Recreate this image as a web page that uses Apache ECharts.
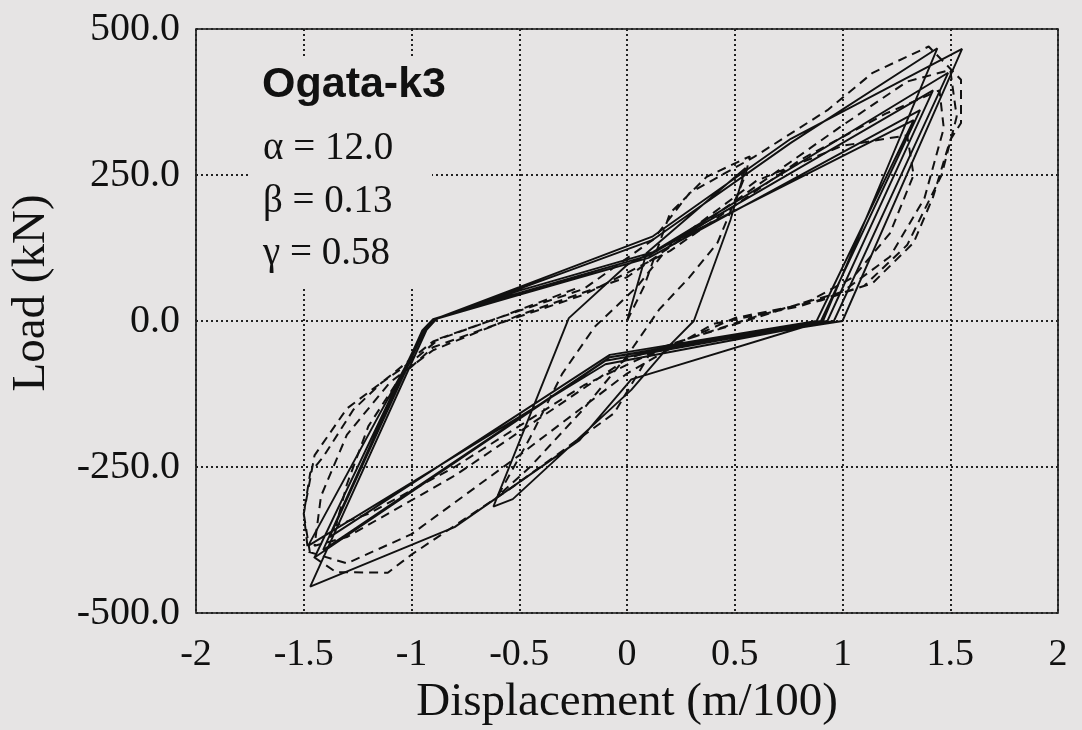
<!DOCTYPE html>
<html>
<head>
<meta charset="utf-8">
<script src="https://cdn.jsdelivr.net/npm/echarts@6/dist/echarts.min.js"></script>
<style>
html,body{margin:0;padding:0;background:#e6e4e4;}
#chart{width:1082px;height:730px;}
</style>
</head>
<body>
<div id="chart"></div>
<script>
// ---- Data (Displacement m/100, Load kN) ----
// Model (solid) hysteresis cycles
const modelCycle1 = [[0,0],[0.09,116],[0.55,262],[0.48,173],[0.31,0],[0.2,-41],[0.02,-118],[-0.53,-305],[-0.62,-318]];
const modelCycle2 = [[-0.27,5],[0,96],[0.12,118],[1.33,344],[0.88,0],[-0.08,-58],[-1.38,-370]];
const modelCycle3 = [[-0.94,-15],[-0.9,2],[-0.5,45],[0.1,108],[1.36,361],[0.9,0],[-0.08,-62],[-1.41,-392]];
const modelCycle4 = [[-0.95,-16],[-0.9,3],[-0.5,48],[0.1,112],[1.42,395],[0.93,0],[-0.1,-68],[-1.45,-405]];
const modelCycle5 = [[-0.95,-18],[-0.88,4],[-0.5,52],[0.12,118],[1.49,425],[0.96,0],[-0.1,-74],[-1.48,-385]];
const modelCycle6 = [[-0.94,-18],[-0.88,5],[-0.5,55],[0.12,139],[0.76,305],[1.44,467],[0.91,0],[0.02,-100],[-0.22,-204],[-0.8,-353],[-1.47,-455]];
const modelCycle7 = [[-0.93,-15],[-0.88,5],[-0.5,58],[0.12,145],[0.76,312],[1.555,466],[1.0,0],[-0.08,-62]];

// Test (dashed) hysteresis cycles
const testCycle1 = [[0,0],[0.08,60],[0.2,185],[0.37,247],[0.57,282],[0.55,250],[0.42,134],[0.29,75],[0.15,20],[0,-60],[-0.2,-150],[-0.45,-250],[-0.6,-300]];
const testCycle2 = [[-0.45,-200],[-0.3,-90],[-0.15,-10],[0.05,60],[0.2,130],[0.6,240],[1.0,300],[1.3,318],[1.33,250],[1.22,150],[1.05,75],[0.85,35],[0.55,0],[0.2,-40],[-0.2,-110],[-0.8,-250],[-1.2,-330],[-1.35,-350]];
const testCycle3 = [[-1.3,-280],[-1.2,-180],[-1.05,-95],[-0.9,-45],[-0.6,-5],[-0.2,45],[0.2,120],[0.8,275],[1.2,355],[1.45,395],[1.47,330],[1.38,210],[1.22,110],[1.0,50],[0.6,8],[0,-65],[-0.8,-265],[-1.3,-370],[-1.45,-385]];
const testCycle4 = [[-1.42,-300],[-1.3,-195],[-1.1,-105],[-0.9,-50],[-0.5,10],[0,75],[0.5,205],[1.0,335],[1.3,410],[1.5,430],[1.53,350],[1.46,250],[1.3,130],[1.1,60],[0.8,25],[0.4,-5],[0,-90],[-0.5,-230],[-1.0,-365],[-1.3,-415],[-1.48,-395]];
const testCycle5 = [[-1.5,-330],[-1.45,-230],[-1.3,-150],[-1.12,-100],[-0.9,-35],[-0.6,5],[-0.2,55],[0.12,139],[0.29,219],[0.59,281],[0.93,361],[1.14,425],[1.4,470],[1.55,413],[1.55,339],[1.5,310],[1.42,212],[1.33,134],[1.14,65],[0.9,35],[0.5,5],[0.1,-60],[-0.06,-158],[-0.53,-284],[-1.0,-400],[-1.11,-431],[-1.35,-430],[-1.47,-400],[-1.5,-330],[-1.47,-260],[-1.41,-233],[-1.27,-152],[-1.14,-106],[-0.99,-67],[-0.87,-30],[-0.6,5],[-0.22,58]];

const modelPath = [].concat(modelCycle1, modelCycle2, modelCycle3, modelCycle4, modelCycle5, modelCycle6, modelCycle7);
const testPath = [].concat(testCycle1, testCycle2, testCycle3, testCycle4, testCycle5);

const labelLines = ['Ogata-k3', '\u03b1 = 12.0', '\u03b2 = 0.13', '\u03b3 = 0.58'];

const BG = '#e6e4e4';
const chart = echarts.init(document.getElementById('chart'), null, {renderer: 'canvas'});
const serif = '"Liberation Serif", "Times New Roman", serif';
chart.setOption({
  animation: false,
  backgroundColor: BG,
  grid: {left: 196, top: 29, right: 24, bottom: 117, show: true, borderColor: '#111', borderWidth: 1.6,
         backgroundColor: 'transparent', containLabel: false, outerBoundsMode: 'none'},
  xAxis: {
    type: 'value', min: -2, max: 2, interval: 0.5,
    name: 'Displacement (m/100)', nameLocation: 'middle', nameGap: 62,
    nameTextStyle: {fontFamily: serif, fontSize: 47, color: '#111'},
    axisLine: {show: false}, axisTick: {show: false},
    axisLabel: {fontFamily: serif, fontSize: 38, color: '#111', margin: 23, formatter: v => String(v)},
    splitLine: {show: true, lineStyle: {color: '#222', width: 2, type: [2, 3]}}
  },
  yAxis: {
    type: 'value', min: -500, max: 500, interval: 250,
    name: 'Load (kN)', nameLocation: 'middle', nameGap: 141, nameRotate: 90,
    nameTextStyle: {fontFamily: serif, fontSize: 47, color: '#111', padding: [0, 0, 0, 56]},
    axisLine: {show: false}, axisTick: {show: false},
    axisLabel: {fontFamily: serif, fontSize: 40, color: '#111', margin: 16, formatter: v => v.toFixed(1)},
    splitLine: {show: true, lineStyle: {color: '#222', width: 2, type: [2, 3]}}
  },
  graphic: [
    {type: 'rect', z: 1, shape: {x: 250, y: 58, width: 182, height: 229}, style: {fill: BG}},
    {type: 'text', z: 3, x: 262, y: 85, style: {text: labelLines[0], font: 'bold 43px "Liberation Sans", Arial, sans-serif', fill: '#111', verticalAlign: 'middle'}},
    {type: 'text', z: 3, x: 263, y: 149, style: {text: labelLines[1], font: '39px ' + serif, fill: '#111', verticalAlign: 'middle'}},
    {type: 'text', z: 3, x: 263, y: 202, style: {text: labelLines[2], font: '39px ' + serif, fill: '#111', verticalAlign: 'middle'}},
    {type: 'text', z: 3, x: 263, y: 254, style: {text: labelLines[3], font: '39px ' + serif, fill: '#111', verticalAlign: 'middle'}}
  ],
  series: [
    {type: 'line', name: 'Model', data: modelPath, showSymbol: false, symbol: 'none', z: 4,
     lineStyle: {color: '#111', width: 1.9}},
    {type: 'line', name: 'Test', data: testPath, showSymbol: false, symbol: 'none', z: 3,
     lineStyle: {color: '#111', width: 2, type: [9, 6]}}
  ]
});
</script>
</body>
</html>
